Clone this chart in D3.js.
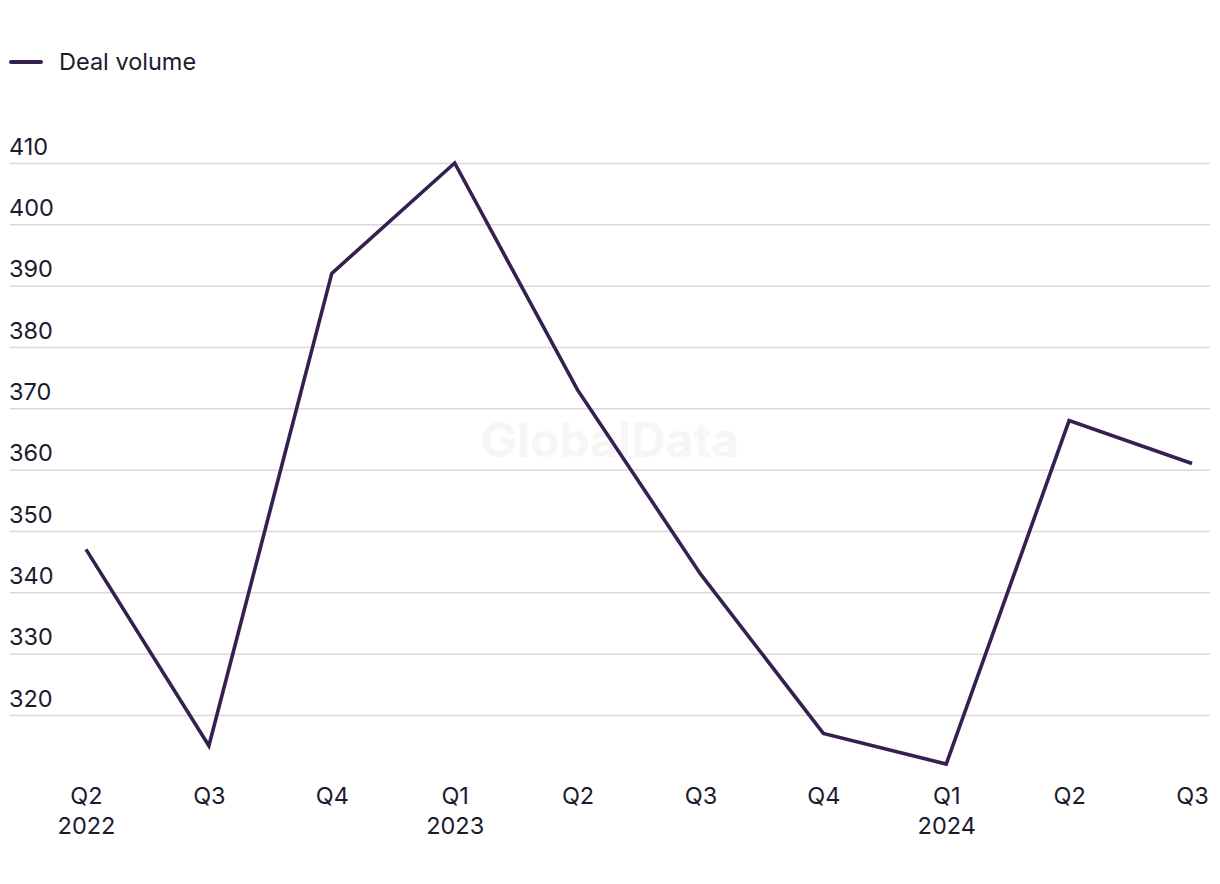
<!DOCTYPE html>
<html><head><meta charset="utf-8">
<script src="https://cdn.jsdelivr.net/npm/d3@7"></script>
<style>body{margin:0;background:#fff;} svg{display:block;}</style>
</head><body>
<svg id="c" width="1220" height="884"></svg>
<script>
const quarters = ["Q2","Q3","Q4","Q1","Q2","Q3","Q4","Q1","Q2","Q3"];
const years = ["2022","","","2023","","","","2024","",""];
const dealVolume = [347,315,392,410,373,343,317,312,368,361];
const yTicks = [320,330,340,350,360,370,380,390,400,410];

const svg = d3.select("#c");
const font = "Inter, 'Noto Sans', sans-serif";
const fs = 23.5;
const textColor = "#1c1b2e";
const lineColor = "#35204f";

const x = d3.scalePoint().domain(d3.range(quarters.length)).range([86,1192]);
const y = d3.scaleLinear().domain([320,410]).range([715,163]);

// watermark
svg.append("text").attr("x",610).attr("y",457).attr("text-anchor","middle")
  .attr("font-family",font).attr("font-weight",700).attr("font-size",48)
  .attr("fill","#f6f6f6").text("GlobalData");

// grid + y labels
const yAxis = d3.axisLeft(y).tickValues(yTicks).tickSize(0).tickPadding(0);
const gy = svg.append("g").call(yAxis);
gy.select(".domain").remove();
gy.selectAll(".tick").each(function(d){
  const g = d3.select(this);
  g.append("line").attr("x1",10).attr("x2",1210).attr("y1",0).attr("y2",0)
   .attr("stroke","#d9d9d9").attr("stroke-width",1.5);
  g.select("text").attr("x",9).attr("y",-9).attr("dy",0)
   .attr("text-anchor","start").attr("font-family",font).attr("font-size",fs)
   .attr("fill",textColor);
});

// x axis labels
const xAxis = d3.axisBottom(x).tickSize(0).tickFormat(()=> "");
const gx = svg.append("g").call(xAxis);
gx.select(".domain").remove();
gx.selectAll(".tick").each(function(i){
  const g = d3.select(this);
  g.select("text").remove();
  g.append("text").attr("y",804).attr("text-anchor","middle")
   .attr("font-family",font).attr("font-size",fs).attr("fill",textColor).text(quarters[i]);
  if (years[i]) g.append("text").attr("y",834).attr("text-anchor","middle")
   .attr("font-family",font).attr("font-size",fs).attr("fill",textColor).text(years[i]);
});

// line
svg.append("path").datum(dealVolume)
  .attr("fill","none").attr("stroke",lineColor).attr("stroke-width",3.6)
  .attr("stroke-linejoin","miter")
  .attr("d", d3.line().x((d,i)=>x(i)).y(d=>y(d)));

// legend
svg.append("line").attr("x1",11).attr("x2",41).attr("y1",62).attr("y2",62)
  .attr("stroke",lineColor).attr("stroke-width",4).attr("stroke-linecap","round");
svg.append("text").attr("x",59).attr("y",70).attr("font-family",font).attr("font-size",fs)
  .attr("fill",textColor).text("Deal volume");
</script>
</body></html>
